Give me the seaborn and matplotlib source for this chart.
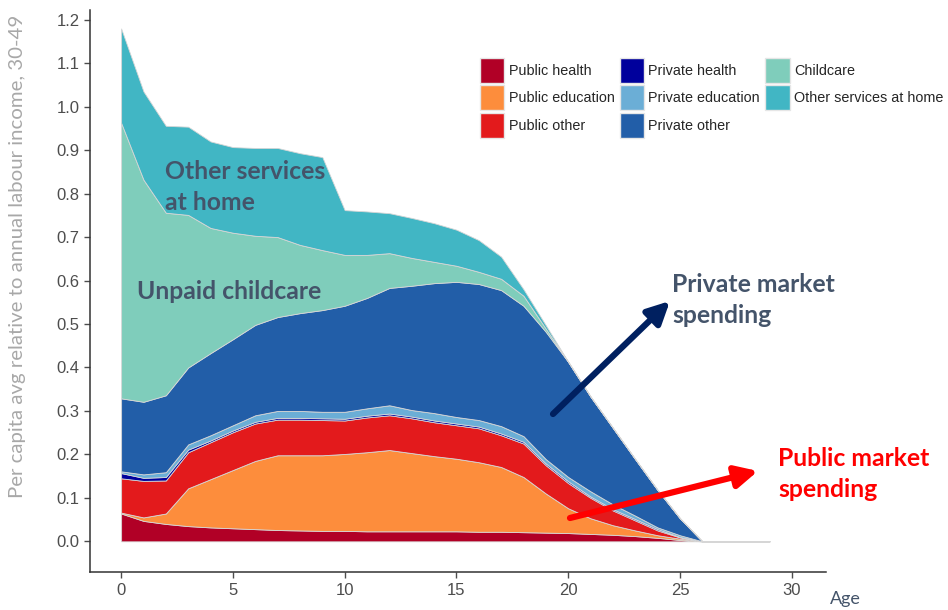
import matplotlib
matplotlib.use("Agg")
import matplotlib.pyplot as plt
from matplotlib.patches import Patch
import seaborn as sns

# values (per capita avg relative to labour income 30-49)
ages = list(range(30))
public_health = [0.064, 0.047, 0.040, 0.035, 0.032, 0.030, 0.028, 0.026, 0.025, 0.024,
                 0.024, 0.023, 0.023, 0.023, 0.023, 0.023, 0.022, 0.022, 0.021, 0.020,
                 0.019, 0.017, 0.015, 0.012, 0.008, 0.003, 0, 0, 0, 0]
public_education = [0.002, 0.008, 0.024, 0.087, 0.111, 0.134, 0.157, 0.172, 0.173, 0.174,
                    0.177, 0.182, 0.187, 0.180, 0.173, 0.167, 0.160, 0.149, 0.127, 0.090,
                    0.057, 0.036, 0.022, 0.013, 0.006, 0.003, 0, 0, 0, 0]
public_other = [0.079, 0.084, 0.076, 0.083, 0.085, 0.087, 0.086, 0.082, 0.082, 0.081,
                0.077, 0.080, 0.080, 0.080, 0.078, 0.077, 0.078, 0.073, 0.077, 0.065,
                0.058, 0.047, 0.034, 0.023, 0.011, 0.003, 0, 0, 0, 0]
private_health = [0.012, 0.007, 0.008, 0.006, 0.004, 0.004, 0.004, 0.004, 0.004, 0.004,
                  0.004, 0.004, 0.004, 0.004, 0.004, 0.004, 0.004, 0.004, 0.004, 0.004,
                  0.004, 0.003, 0.003, 0.003, 0.003, 0.001, 0, 0, 0, 0]
private_education = [0.004, 0.008, 0.011, 0.012, 0.012, 0.012, 0.015, 0.016, 0.016, 0.015,
                     0.016, 0.017, 0.019, 0.015, 0.017, 0.015, 0.015, 0.017, 0.013, 0.010,
                     0.010, 0.012, 0.011, 0.008, 0.004, 0.004, 0, 0, 0, 0]
private_other = [0.168, 0.167, 0.177, 0.177, 0.189, 0.198, 0.208, 0.216, 0.225, 0.234,
                 0.244, 0.254, 0.270, 0.286, 0.299, 0.311, 0.313, 0.313, 0.300, 0.293,
                 0.265, 0.218, 0.176, 0.130, 0.086, 0.039, 0, 0, 0, 0]
childcare = [0.634, 0.511, 0.420, 0.351, 0.288, 0.245, 0.205, 0.184, 0.157, 0.138,
             0.117, 0.099, 0.080, 0.064, 0.049, 0.037, 0.028, 0.026, 0.023, 0.007,
             0, 0, 0, 0, 0, 0, 0, 0, 0, 0]
other_home = [0.217, 0.203, 0.200, 0.203, 0.199, 0.197, 0.202, 0.205, 0.211, 0.214,
              0.103, 0.100, 0.092, 0.092, 0.089, 0.083, 0.073, 0.051, 0.015, 0.008,
              0, 0, 0, 0, 0, 0, 0, 0, 0, 0]

labels = ["Public health", "Public education", "Public other",
          "Private health", "Private education", "Private other",
          "Childcare", "Other services at home"]
colors = ["#b10026", "#fd8d3c", "#e31a1c", "#00009c", "#6baed6", "#225ea8",
          "#7fcdbb", "#41b6c4"]

sns.set_theme(style="ticks")
plt.rcParams["font.family"] = ["Liberation Sans", "DejaVu Sans"]

fig = plt.figure(figsize=(9.48, 6.10), dpi=100)
ax = fig.add_axes([0.095, 0.062, 0.776, 0.922])

ax.stackplot(ages, public_health, public_education, public_other, private_health,
             private_education, private_other, childcare, other_home,
             colors=colors, edgecolor="#d6d6d6", linewidth=0.6)

ax.set_xlim(-1.39, 31.52)
ax.set_ylim(-0.071, 1.223)
ax.set_xticks([0, 5, 10, 15, 20, 25, 30])
ax.set_yticks([i / 10 for i in range(13)])
ax.set_yticklabels([f"{i / 10:.1f}" for i in range(13)])
ax.tick_params(axis="both", labelsize=12, colors="#4d4d4d", length=4, width=1)
sns.despine(ax=ax)
for s in ["left", "bottom"]:
    ax.spines[s].set_color("#333333")
    ax.spines[s].set_linewidth(1.1)

fig.text(18 / 948, 1 - 256 / 610, "Per capita avg relative to annual labour income, 30-49",
         fontsize=14.7, color="#a8a8a8", family="Lato", rotation=90,
         ha="center", va="center")
fig.text(845 / 948, 1 - 599 / 610, "Age", fontsize=13, color="#44546a",
         family="Lato", ha="center", va="center")

handles = [Patch(facecolor=c, edgecolor="#e6e6e6", label=l) for c, l in zip(colors, labels)]
fig.legend(handles=handles, ncol=3, loc="upper left", frameon=False,
           bbox_to_anchor=(474 / 948, 1 - 52 / 610), fontsize=10.4,
           handlelength=1.7, handleheight=2.3, handletextpad=0.3,
           columnspacing=0.35, labelspacing=0.16, borderaxespad=0)

slate = "#44546a"
txt = dict(family="Lato", fontweight="bold", fontsize=17.8, va="center", ha="left",
           linespacing=1.43)
fig.text(165 / 948, 1 - 187 / 610, "Other services\nat home", color=slate, **txt)
fig.text(137 / 948, 1 - 291 / 610, "Unpaid childcare", color=slate, **txt)
fig.text(672 / 948, 1 - 300 / 610, "Private market\nspending", color=slate, **txt)
fig.text(778 / 948, 1 - 474 / 610, "Public market\nspending", color="#ff0000", **txt)

ax.annotate("", xy=(670, 610 - 301), xytext=(553, 610 - 414),
            xycoords="figure pixels", textcoords="figure pixels",
            arrowprops=dict(arrowstyle="-|>,head_length=1.1,head_width=0.55",
                            color="#002060", lw=4.5, shrinkA=0, shrinkB=0))
ax.annotate("", xy=(758, 610 - 471), xytext=(570, 610 - 518),
            xycoords="figure pixels", textcoords="figure pixels",
            arrowprops=dict(arrowstyle="-|>,head_length=1.1,head_width=0.55",
                            color="#ff0000", lw=4.5, shrinkA=0, shrinkB=0))

fig.savefig("out.png", dpi=100)
